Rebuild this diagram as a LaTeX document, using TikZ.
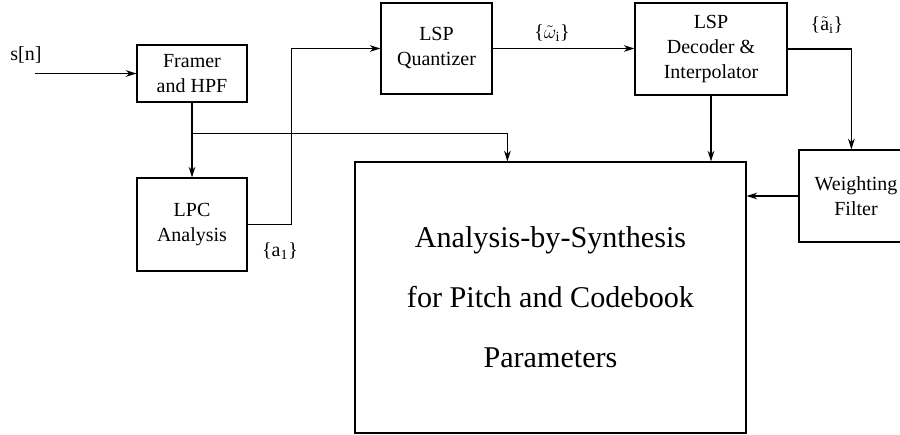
\documentclass[tikz,border=0pt]{standalone}
\usepackage{fontspec}
\setmainfont{Liberation Serif}
\usetikzlibrary{arrows.meta,calc}

\begin{document}
\begin{tikzpicture}[x=0.75pt,y=-0.75pt,
  block/.style={draw, line width=0.9pt, align=center, inner sep=0pt,
    font=\fontsize{15}{18.75}\selectfont},
  sig/.style={line width=0.8pt, -{Stealth[length=8pt,width=5pt,inset=2.5pt]}},
  lbl/.style={inner sep=0pt, font=\fontsize{15}{18}\selectfont}]

\def \u {0.75pt} % one pixel of the reference

\useasboundingbox (0,0) rectangle (900,435);

% blocks
\node[block, minimum width=110*\u, minimum height=57*\u] (framer) at (192,73.5) {Framer\\and HPF};
\node[block, minimum width=110*\u, minimum height=93*\u] (lpc) at (192,224.5) {LPC\\Analysis};
\node[block, minimum width=111*\u, minimum height=91*\u] (quant) at (436.5,48.5) {LSP\\Quantizer};
\node[block, minimum width=152*\u, minimum height=92*\u] (dec) at (711,49) {LSP\\Decoder \&\\Interpolator};
\node[block, minimum width=114*\u, minimum height=92*\u] (wf) at (856,196) {Weighting\\Filter};
\node[block, minimum width=391*\u, minimum height=271*\u,
  font=\fontsize{22.6}{45}\selectfont] (abs) at (550.5,297.5)
  {Analysis-by-Synthesis\\for Pitch and Codebook\\Parameters};

% signals
\coordinate (in) at (35,73.5);
\draw[sig] (in) -- (framer.west);
\draw[sig] (framer.south) -- (lpc.north);
\path (framer.south) -- (lpc.north) coordinate[pos=0.41] (br);
\draw[sig] (br) -| ($(abs.north west)+(153,0)$);
\draw[sig] (lpc.east) -- ++(44,0) |- (quant.west);
\draw[sig] (quant.east) -- (quant.east -| dec.west);
\draw[sig] (dec.east) -| ($(wf.north west)+(53,0)$);
\draw[sig] (dec.south) -- (dec.south |- abs.north);
\draw[sig] (wf.west) -- (wf.west -| abs.east);

% labels
\node[lbl] (sn) at (26,55) {s[n]};
\node[lbl] (ai) at (280,251) {\{a\textsubscript{1}\}};
\node[lbl] (wi) at (552,33) {\{$\tilde{\omega}_{\mathrm{i}}$\}};
\node[lbl] (ati) at (827,25) {\{$\tilde{\mathrm{a}}_{\mathrm{i}}$\}};
\end{tikzpicture}
\end{document}
